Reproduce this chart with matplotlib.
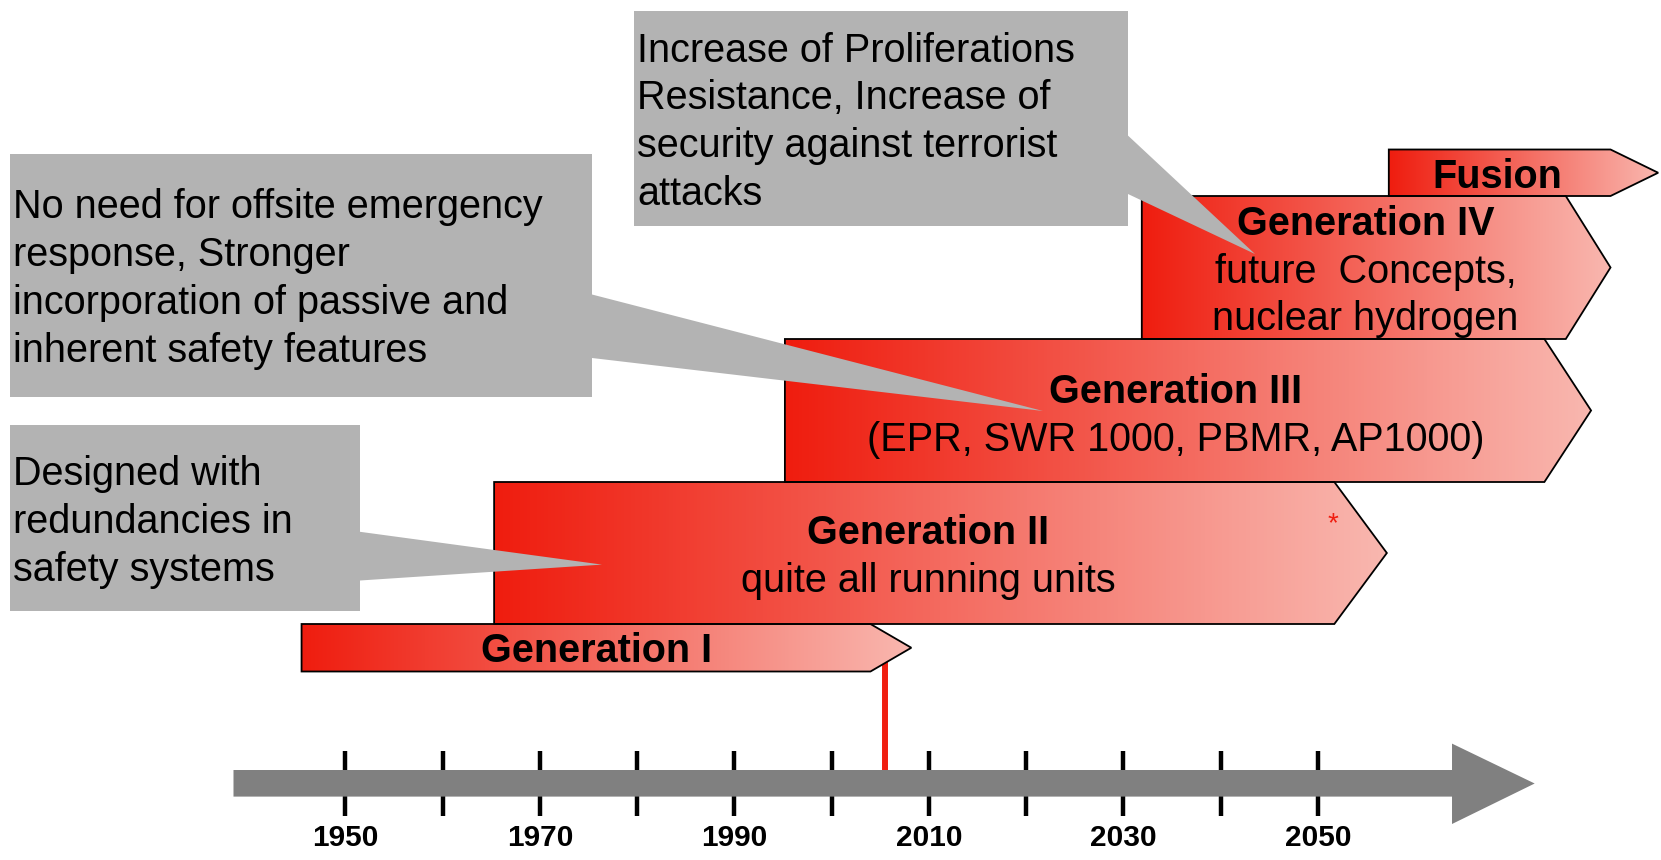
import numpy as np
import matplotlib
matplotlib.use("Agg")
import matplotlib.pyplot as plt
from matplotlib import font_manager
from matplotlib.patches import Polygon
from matplotlib.colors import LinearSegmentedColormap

plt.rcParams['font.family'] = ['Liberation Sans', 'DejaVu Sans']

# reactor generations: start year, year where arrow head begins, arrow tip year
gen_names = ["Generation I", "Generation II", "Generation III", "Generation IV", "Fusion"]
gen_subs = [[], ["quite all running units"], ["(EPR, SWR 1000, PBMR, AP1000)"],
            ["future  Concepts,", "nuclear hydrogen"], []]
gen_start = [1945.5, 1965.3, 1995.2, 2031.9, 2057.3]
gen_base = [2004.0, 2051.7, 2073.3, 2075.5, 2080.1]
gen_tip = [2008.2, 2057.1, 2078.1, 2080.1, 2085.0]

tick_years = [1950, 1960, 1970, 1980, 1990, 2000, 2010, 2020, 2030, 2040, 2050]
label_years = [1950, 1970, 1990, 2010, 2030, 2050]
today = 2005.5
axis_start, axis_end, axis_tip = 1938.5, 2063.8, 2072.3

callouts = [
    ["Increase of Proliferations", "Resistance, Increase of", "security against terrorist", "attacks"],
    ["No need for offsite emergency", "response, Stronger", "incorporation of passive and", "inherent safety features"],
    ["Designed with", "redundancies in", "safety systems"],
]

# layout (pixels, y downwards)
W, H = 1661, 860
gen_top = [624, 482, 339, 196, 149.5]
gen_bot = [671.5, 624, 482, 339, 196]
gen_text_x = [1975.8, 2009.9, 2035.4, 2054.9, 2068.5]
gen_text_y = [651, 533, 392, 224, 177]
line_step = 47.7

box_rects = [(633.5, 10.6, 1128, 225.6), (9.5, 153.6, 592, 397), (9.5, 424.8, 360, 611)]
box_pointers = [[(1128, 135.6), (1255, 254), (1128, 194)],
                [(592, 294.5), (1043, 411), (592, 358)],
                [(360, 531.8), (602, 564.6), (360, 580.5)]]
box_text_x = [637, 13, 13]
box_text_y = [50.5, 207.4, 474.4]

fs = 28.5
grey_box = "#b3b3b3"
grey_axis = "#808080"

names = {f.name for f in font_manager.fontManager.ttflist}
if "Liberation Sans Narrow" in names:
    year_family, year_fs = ["Liberation Sans Narrow", "Liberation Sans"], 23.5
else:
    year_family, year_fs = ["Liberation Sans", "DejaVu Sans"], 21.5

fig = plt.figure(figsize=(W / 100, H / 100), dpi=100, facecolor="white")
ax = fig.add_axes([0, 0, 1, 1])
ax.set_axis_off()

# timeline ticks, red "today" line, grey arrow
ax.vlines(tick_years, 751, 816, color="black", lw=3.2, zorder=1)
ax.vlines(today, (gen_top[0] + gen_bot[0]) / 2, 780, color="#f01e10", lw=4.3, zorder=1)
arrow = [(axis_start, 770), (axis_end, 770), (axis_end, 743.6), (axis_tip, 783.5),
         (axis_end, 824), (axis_end, 796.6), (axis_start, 796.6)]
ax.add_patch(Polygon(arrow, closed=True, facecolor=grey_axis, edgecolor="none", zorder=2))
for y in label_years:
    ax.text(y, 838, str(y), ha="center", va="center", fontsize=year_fs, fontweight="bold",
            family=year_family)

# generation arrows with gradient fill
cmap = LinearSegmentedColormap.from_list("gen", ["#ef1d0f", "#f9b7af"])
grad = np.linspace(0, 1, 256).reshape(1, -1)
for i, name in enumerate(gen_names):
    x0, xb, xt = gen_start[i], gen_base[i], gen_tip[i]
    top, bot = gen_top[i], gen_bot[i]
    mid = (top + bot) / 2
    poly = Polygon([(x0, top), (xb, top), (xt, mid), (xb, bot), (x0, bot)], closed=True,
                   facecolor="none", edgecolor="black", lw=1.3, zorder=4)
    ax.add_patch(poly)
    im = ax.imshow(grad, cmap=cmap, extent=(x0, xt, bot, top), aspect="auto",
                   interpolation="bilinear", zorder=3)
    im.set_clip_path(poly)
    ax.text(gen_text_x[i], gen_text_y[i], name, ha="center", va="center",
            fontsize=fs, fontweight="bold", zorder=5)
    for k, s in enumerate(gen_subs[i]):
        ax.text(gen_text_x[i], gen_text_y[i] + (k + 1) * line_step, s, ha="center",
                va="center", fontsize=fs, zorder=5)

ax.text(2051.6, 524, "*", color="#f01e10", ha="center", va="center", fontsize=20, zorder=5)

ax.set_xlim(1914.49, 2085.29)
ax.set_ylim(H, 0)

# grey callouts on top (pixel coordinates)
ax2 = fig.add_axes([0, 0, 1, 1])
ax2.set_axis_off()
ax2.patch.set_visible(False)
ax2.set_xlim(0, W)
ax2.set_ylim(H, 0)
for i, lines in enumerate(callouts):
    x0, y0, x1, y1 = box_rects[i]
    ax2.add_patch(Polygon([(x0, y0), (x1, y0), (x1, y1), (x0, y1)], closed=True,
                          facecolor=grey_box, edgecolor="none"))
    ax2.add_patch(Polygon(box_pointers[i], closed=True, facecolor=grey_box, edgecolor="none"))
    for k, s in enumerate(lines):
        ax2.text(box_text_x[i], box_text_y[i] + k * line_step, s, ha="left", va="center",
                 fontsize=fs)

fig.savefig("out.png", dpi=100, facecolor="white")
